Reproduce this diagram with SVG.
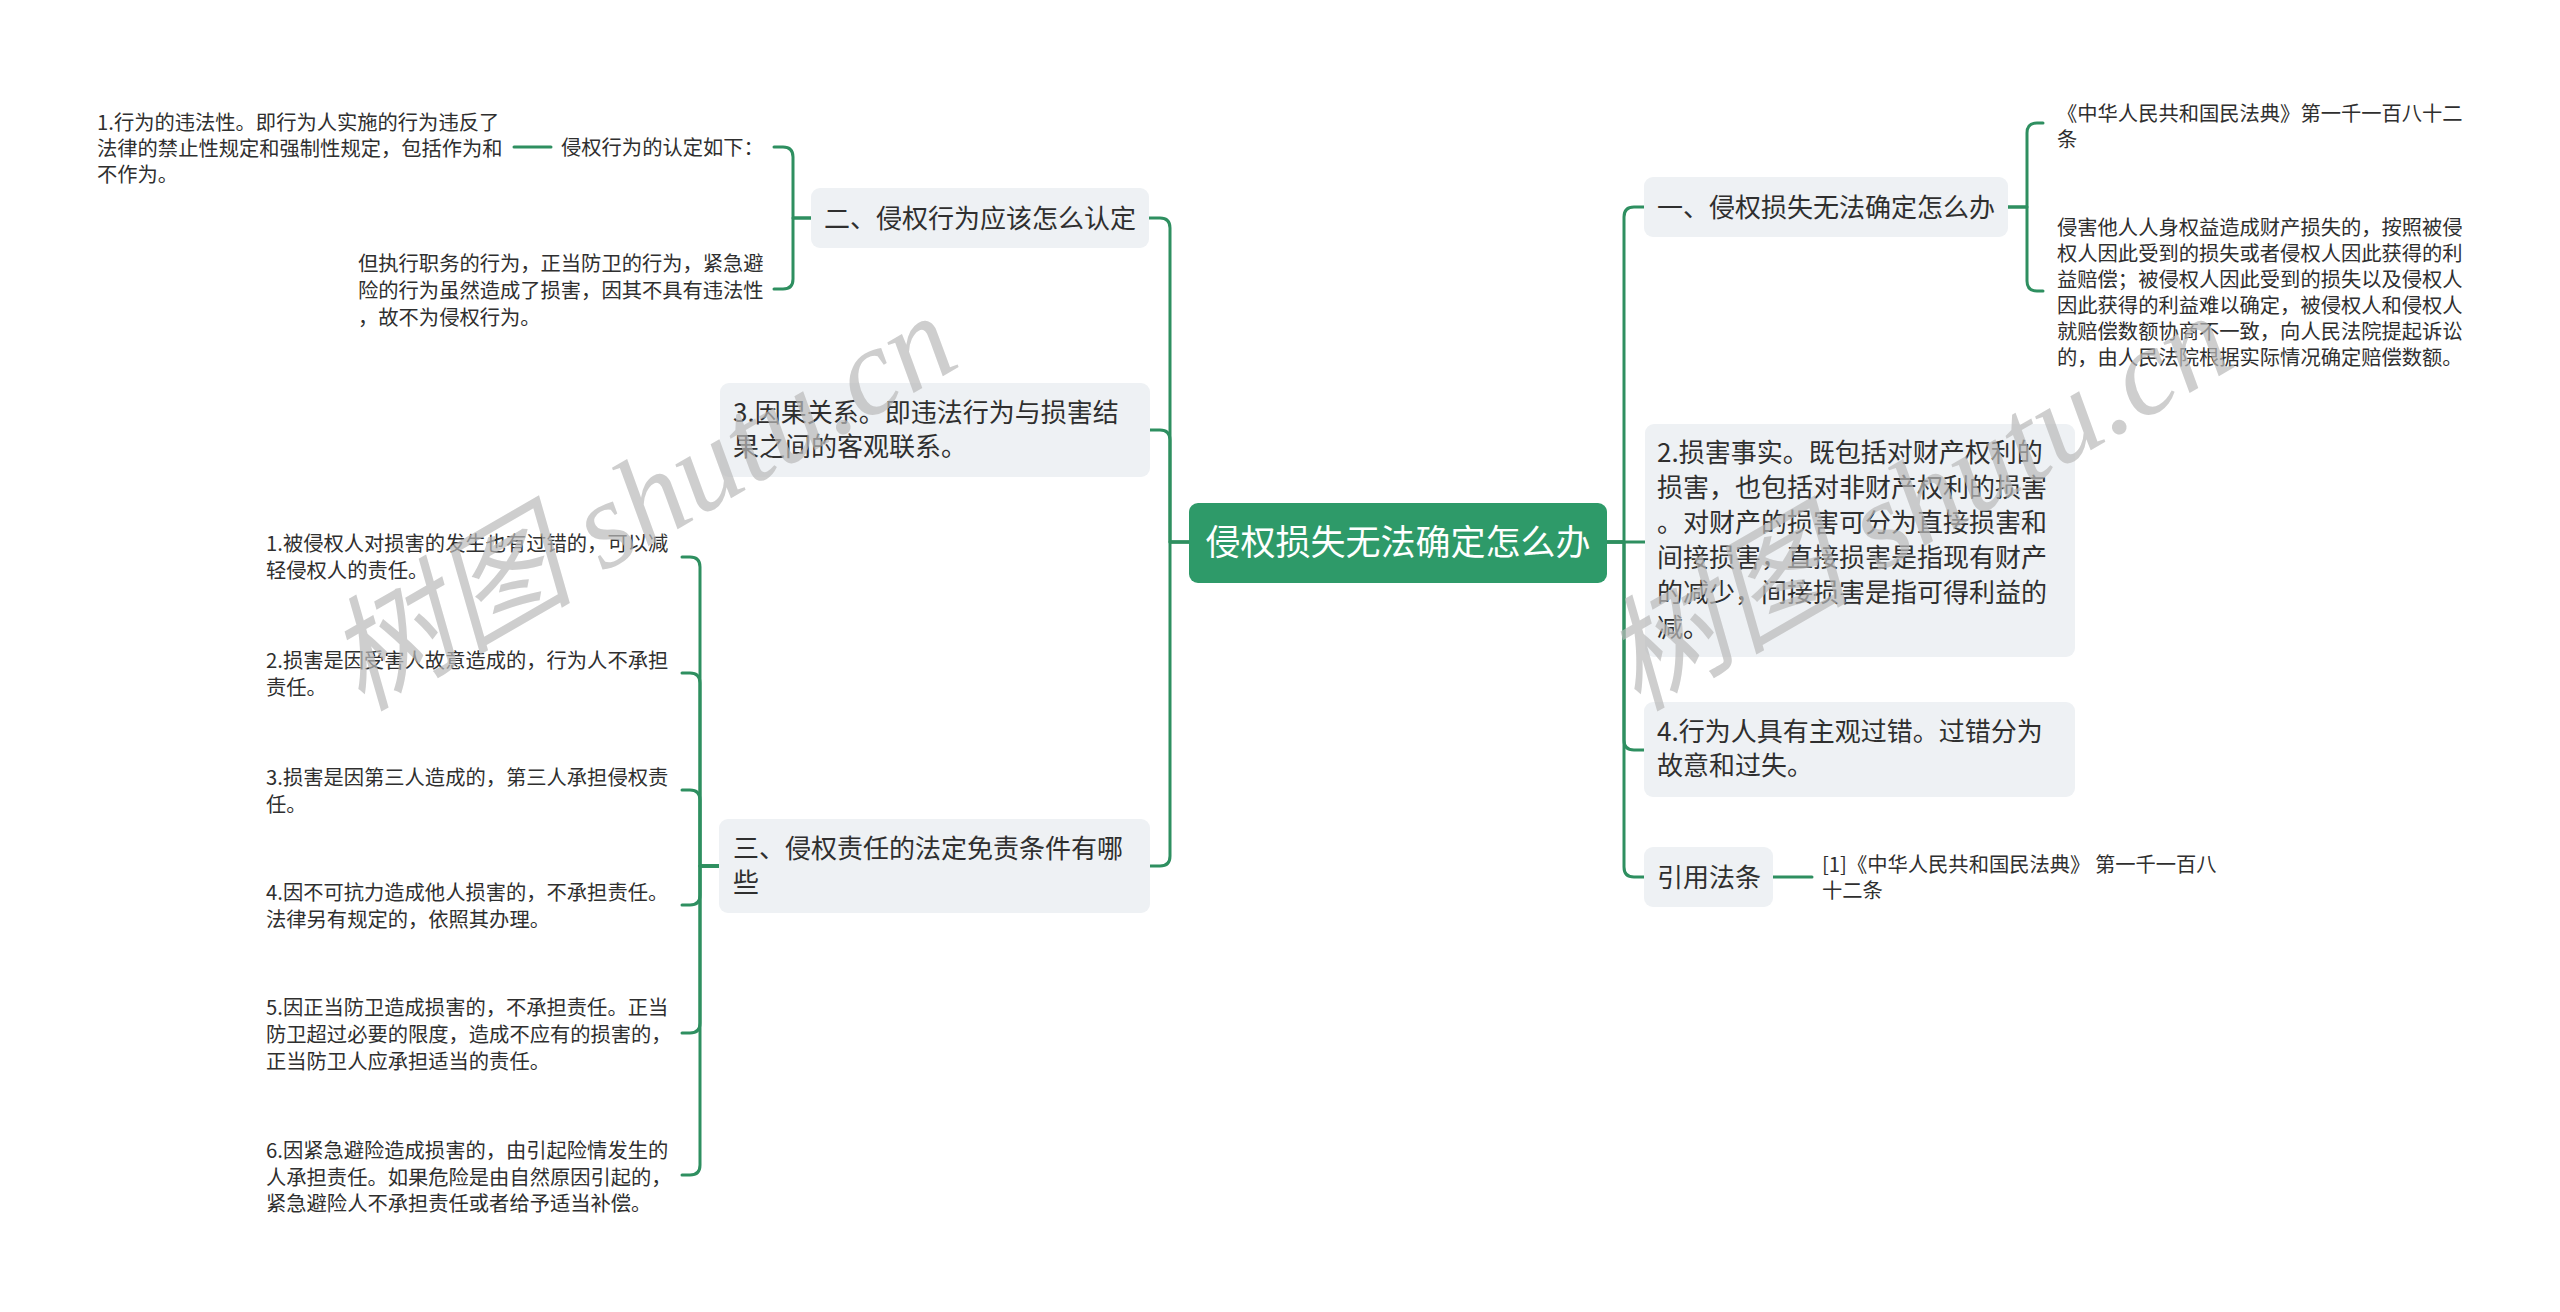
<svg xmlns="http://www.w3.org/2000/svg" width="2560" height="1312" viewBox="0 0 2560 1312">
<style>
.bg{fill:#ffffff}
.box{fill:#eef1f4}
.root{fill:#2e9a69}
.t{font-family:"Noto Sans CJK SC","Liberation Sans",sans-serif;fill:#2f2f2f}
.t26{font-size:26px}
.t20{font-size:20.3px}
.rt{font-family:"Noto Sans CJK SC","Liberation Sans",sans-serif;font-size:35px;fill:#ffffff}
.ln{fill:none;stroke:#2e8f60;stroke-width:3;stroke-linecap:round;stroke-linejoin:round}
.wm{font-family:"Liberation Serif","Noto Sans CJK SC",serif;font-style:italic;font-size:124px;fill:#bababa;opacity:0.7}
</style>
<rect class="bg" x="0" y="0" width="2560" height="1312"/>

<g id="connectors">
  <!-- left trunk -->
  <path class="ln" d="M1189 542 H1170 V228 Q1170 218 1160 218 H1149"/>
  <path class="ln" d="M1189 542 H1170 V440 Q1170 430 1160 430 H1150"/>
  <path class="ln" d="M1189 542 H1170 V856 Q1170 866 1160 866 H1150"/>
  <!-- 二 bracket -->
  <path class="ln" d="M811 218 H793 V157 Q793 147 783 147 H774"/>
  <path class="ln" d="M811 218 H793 V279 Q793 289 783 289 H774"/>
  <path class="ln" d="M514 147 H551"/>
  <!-- 三 bracket -->
  <path class="ln" d="M719 866 H700 V567 Q700 557 690 557 H682"/>
  <path class="ln" d="M719 866 H700 V683 Q700 673 690 673 H682"/>
  <path class="ln" d="M719 866 H700 V800 Q700 790 690 790 H682"/>
  <path class="ln" d="M719 866 H700 V895 Q700 905 690 905 H682"/>
  <path class="ln" d="M719 866 H700 V1023 Q700 1033 690 1033 H682"/>
  <path class="ln" d="M719 866 H700 V1165 Q700 1175 690 1175 H682"/>
  <!-- right trunk -->
  <path class="ln" d="M1607 542 H1624 V217 Q1624 207 1634 207 H1644"/>
  <path class="ln" d="M1607 542 H1645"/>
  <path class="ln" d="M1607 542 H1624 V740 Q1624 750 1634 750 H1644"/>
  <path class="ln" d="M1607 542 H1624 V867 Q1624 877 1634 877 H1644"/>
  <!-- 一 bracket -->
  <path class="ln" d="M2008 207 H2027 V133 Q2027 123 2037 123 H2043"/>
  <path class="ln" d="M2008 207 H2027 V281 Q2027 291 2037 291 H2043"/>
  <!-- 引用法条 -->
  <path class="ln" d="M1773 877 H1812"/>
</g>

<g id="root">
  <rect class="root" x="1189" y="503" width="418" height="80" rx="9"/>
  <text class="rt" x="1398" y="555" text-anchor="middle">侵权损失无法确定怎么办</text>
</g>

<g id="n-er">
  <rect class="box" x="811" y="188" width="338" height="60" rx="9"/>
  <text class="t t26" x="824" y="228">二、侵权行为应该怎么认定</text>
</g>
<g id="n-er-a">
  <text class="t t20" x="561" y="155">侵权行为的认定如下：</text>
</g>
<g id="n-er-a1">
  <text class="t t20"><tspan x="97" y="130">1.行为的违法性。即行为人实施的行为违反了</tspan><tspan x="97" y="156">法律的禁止性规定和强制性规定，包括作为和</tspan><tspan x="97" y="182">不作为。</tspan></text>
</g>
<g id="n-er-b">
  <text class="t t20"><tspan x="358" y="271">但执行职务的行为，正当防卫的行为，紧急避</tspan><tspan x="358" y="298">险的行为虽然造成了损害，因其不具有违法性</tspan><tspan x="358" y="325">，故不为侵权行为。</tspan></text>
</g>

<g id="n-yinguo">
  <rect class="box" x="720" y="383" width="430" height="94" rx="9"/>
  <text class="t t26"><tspan x="733" y="422">3.因果关系。即违法行为与损害结</tspan><tspan x="733" y="456">果之间的客观联系。</tspan></text>
</g>

<g id="n-san">
  <rect class="box" x="719" y="819" width="431" height="94" rx="9"/>
  <text class="t t26"><tspan x="733" y="858">三、侵权责任的法定免责条件有哪</tspan><tspan x="733" y="892">些</tspan></text>
</g>
<g id="n-san-1">
  <text class="t t20"><tspan x="266" y="551">1.被侵权人对损害的发生也有过错的，可以减</tspan><tspan x="266" y="578">轻侵权人的责任。</tspan></text>
</g>
<g id="n-san-2">
  <text class="t t20"><tspan x="266" y="668">2.损害是因受害人故意造成的，行为人不承担</tspan><tspan x="266" y="695">责任。</tspan></text>
</g>
<g id="n-san-3">
  <text class="t t20"><tspan x="266" y="785">3.损害是因第三人造成的，第三人承担侵权责</tspan><tspan x="266" y="812">任。</tspan></text>
</g>
<g id="n-san-4">
  <text class="t t20"><tspan x="266" y="900">4.因不可抗力造成他人损害的，不承担责任。</tspan><tspan x="266" y="927">法律另有规定的，依照其办理。</tspan></text>
</g>
<g id="n-san-5">
  <text class="t t20"><tspan x="266" y="1015">5.因正当防卫造成损害的，不承担责任。正当</tspan><tspan x="266" y="1042">防卫超过必要的限度，造成不应有的损害的，</tspan><tspan x="266" y="1069">正当防卫人应承担适当的责任。</tspan></text>
</g>
<g id="n-san-6">
  <text class="t t20"><tspan x="266" y="1158">6.因紧急避险造成损害的，由引起险情发生的</tspan><tspan x="266" y="1185">人承担责任。如果危险是由自然原因引起的，</tspan><tspan x="266" y="1211">紧急避险人不承担责任或者给予适当补偿。</tspan></text>
</g>

<g id="n-yi">
  <rect class="box" x="1644" y="177" width="364" height="60" rx="9"/>
  <text class="t t26" x="1657" y="217">一、侵权损失无法确定怎么办</text>
</g>
<g id="n-yi-1">
  <text class="t t20"><tspan x="2057" y="121">《中华人民共和国民法典》第一千一百八十二</tspan><tspan x="2057" y="147">条</tspan></text>
</g>
<g id="n-yi-2">
  <text class="t t20"><tspan x="2057" y="235">侵害他人人身权益造成财产损失的，按照被侵</tspan><tspan x="2057" y="261">权人因此受到的损失或者侵权人因此获得的利</tspan><tspan x="2057" y="287">益赔偿；被侵权人因此受到的损失以及侵权人</tspan><tspan x="2057" y="313">因此获得的利益难以确定，被侵权人和侵权人</tspan><tspan x="2057" y="339">就赔偿数额协商不一致，向人民法院提起诉讼</tspan><tspan x="2057" y="365">的，由人民法院根据实际情况确定赔偿数额。</tspan></text>
</g>

<g id="n-sunhai">
  <rect class="box" x="1645" y="424" width="430" height="233" rx="9"/>
  <text class="t t26"><tspan x="1657" y="462">2.损害事实。既包括对财产权利的</tspan><tspan x="1657" y="497">损害，也包括对非财产权利的损害</tspan><tspan x="1657" y="532">。对财产的损害可分为直接损害和</tspan><tspan x="1657" y="567">间接损害，直接损害是指现有财产</tspan><tspan x="1657" y="602">的减少，间接损害是指可得利益的</tspan><tspan x="1657" y="637">减。</tspan></text>
</g>

<g id="n-guocuo">
  <rect class="box" x="1644" y="702" width="431" height="95" rx="9"/>
  <text class="t t26"><tspan x="1657" y="741">4.行为人具有主观过错。过错分为</tspan><tspan x="1657" y="775">故意和过失。</tspan></text>
</g>

<g id="n-yinyong">
  <rect class="box" x="1644" y="847" width="129" height="60" rx="9"/>
  <text class="t t26" x="1657" y="887">引用法条</text>
</g>
<g id="n-yinyong-1">
  <text class="t t20"><tspan x="1822" y="872">[1]《中华人民共和国民法典》 第一千一百八</tspan><tspan x="1822" y="898">十二条</tspan></text>
</g>

<g id="watermarks">
  <text class="wm" x="361" y="712" transform="rotate(-30 361 712)">树图 shutu.cn</text>
  <text class="wm" x="1637" y="712" transform="rotate(-30 1637 712)">树图 shutu.cn</text>
</g>
</svg>
